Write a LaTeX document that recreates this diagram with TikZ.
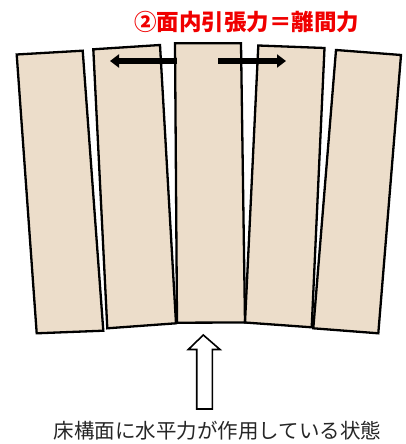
\documentclass[tikz,border=0pt]{standalone}
\usepackage{fontspec}
\newfontfamily\jpfont{Noto Sans CJK JP}
\usetikzlibrary{arrows.meta}

\definecolor{woodfill}{RGB}{236,221,202}
\definecolor{forcered}{RGB}{240,0,0}

\tikzset{
  board/.style={draw=black, fill=woodfill, line width=2.3pt, line join=miter},
  pull/.style={line width=6pt, -{Triangle[width=13pt,length=9pt]}},
  push/.style={draw=black, fill=white, line width=1.6pt, line join=miter},
}

\begin{document}
\begin{tikzpicture}[x=1pt,y=-1pt]
  % pixel grid, y runs downwards
  \useasboundingbox (0,0) rectangle (405,444);

  % five floor boards, corners given as TL / TR / BR / BL
  \foreach \tl/\tr/\br/\bl [count=\i] in {
      {16.7,54.5}/{82.7,50.7}/{103.3,330.7}/{36.7,333.3},
      {93.3,49.3}/{160,45}/{176,323.3}/{107.3,328.3},
      {175,43.3}/{241,43.3}/{245,322.5}/{177,322.7},
      {258.3,45.5}/{324.5,48}/{311.7,327.3}/{245,322.5},
      {336,50}/{401,55}/{378.3,333.3}/{313.3,328.3}} {
    \draw[board] (\tl) -- (\tr) -- (\br) -- (\bl) -- cycle;
  }

  % in-plane tension pulling the boards apart
  \coordinate (pullL0) at (177,61);
  \coordinate (pullL1) at (110,61);
  \coordinate (pullR0) at (218,61);
  \coordinate (pullR1) at (286,61);
  \draw[pull] (pullL0) -- (pullL1);
  \draw[pull] (pullR0) -- (pullR1);

  % horizontal load on the floor (hollow arrow)
  \draw[push] (203.3,335) -- (220,349.5) -- (212.3,349.5) -- (212.3,409)
    -- (196.7,409) -- (196.7,349.5) -- (188.3,349.5) -- cycle;

  % labels
  \node[font=\jpfont\bfseries\fontsize{22.5}{24}\selectfont, text=forcered]
    (title) at (246.5,21.7) {②面内引張力＝離間力};
  \node[font=\jpfont\fontsize{20.5}{22}\selectfont, text=black!85]
    (caption) at (217.5,431) {床構面に水平力が作用している状態};
\end{tikzpicture}
\end{document}
